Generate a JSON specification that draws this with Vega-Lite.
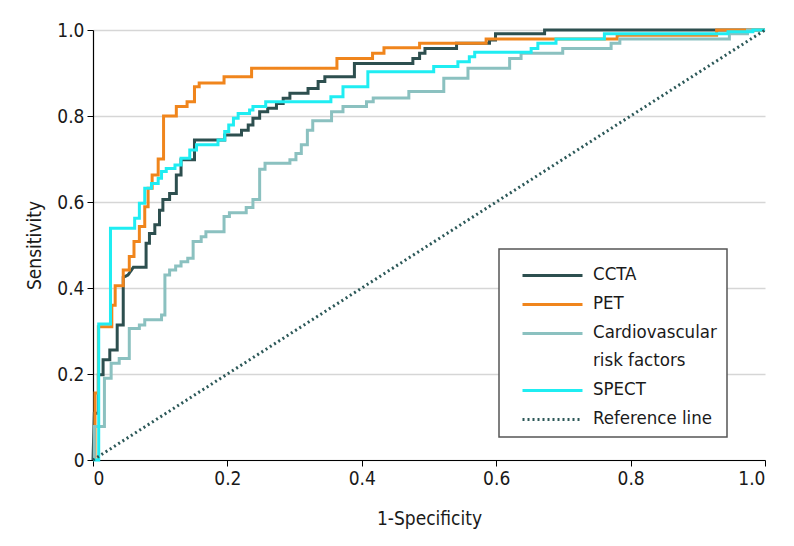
{
  "$schema": "https://vega.github.io/schema/vega-lite/v6.json",
  "width": 672,
  "height": 430,
  "autosize": {"type": "none"},
  "padding": {"left": 93, "top": 30, "right": 29, "bottom": 86},
  "config": {
    "font": "DejaVu Sans Condensed",
    "view": {"stroke": null},
    "axis": {
      "labelFont": "DejaVu Sans Condensed",
      "titleFont": "DejaVu Sans Condensed",
      "labelFontSize": 19,
      "titleFontSize": 19,
      "titleFontWeight": "normal",
      "labelColor": "#1a1a1a",
      "titleColor": "#1a1a1a",
      "domainColor": "#000000",
      "domainWidth": 1.2,
      "tickColor": "#000000",
      "tickWidth": 1,
      "tickSize": 6,
      "labelPadding": 3,
      "gridColor": "#d6d6d6",
      "gridWidth": 1.5
    },
    "legend": {
      "labelFont": "DejaVu Sans Condensed",
      "labelFontSize": 18.5,
      "labelColor": "#1a1a1a"
    }
  },
  "data": {
    "values": [
      {"s":"CCTA","i":0,"x":0,"y":0},{"s":"CCTA","i":1,"x":0.002,"y":0.109},{"s":"CCTA","i":2,"x":0.008,"y":0.109},{"s":"CCTA","i":3,"x":0.008,"y":0.198},{"s":"CCTA","i":4,"x":0.015,"y":0.198},{"s":"CCTA","i":5,"x":0.015,"y":0.233},{"s":"CCTA","i":6,"x":0.025,"y":0.233},{"s":"CCTA","i":7,"x":0.025,"y":0.256},{"s":"CCTA","i":8,"x":0.036,"y":0.256},{"s":"CCTA","i":9,"x":0.036,"y":0.314},{"s":"CCTA","i":10,"x":0.045,"y":0.314},{"s":"CCTA","i":11,"x":0.045,"y":0.425},{"s":"CCTA","i":12,"x":0.052,"y":0.43},{"s":"CCTA","i":13,"x":0.06,"y":0.448},{"s":"CCTA","i":14,"x":0.079,"y":0.448},{"s":"CCTA","i":15,"x":0.079,"y":0.504},{"s":"CCTA","i":16,"x":0.084,"y":0.504},{"s":"CCTA","i":17,"x":0.084,"y":0.527},{"s":"CCTA","i":18,"x":0.092,"y":0.527},{"s":"CCTA","i":19,"x":0.092,"y":0.547},{"s":"CCTA","i":20,"x":0.099,"y":0.547},{"s":"CCTA","i":21,"x":0.099,"y":0.581},{"s":"CCTA","i":22,"x":0.104,"y":0.581},{"s":"CCTA","i":23,"x":0.104,"y":0.606},{"s":"CCTA","i":24,"x":0.114,"y":0.606},{"s":"CCTA","i":25,"x":0.114,"y":0.62},{"s":"CCTA","i":26,"x":0.124,"y":0.62},{"s":"CCTA","i":27,"x":0.124,"y":0.663},{"s":"CCTA","i":28,"x":0.131,"y":0.663},{"s":"CCTA","i":29,"x":0.131,"y":0.698},{"s":"CCTA","i":30,"x":0.151,"y":0.698},{"s":"CCTA","i":31,"x":0.151,"y":0.744},{"s":"CCTA","i":32,"x":0.196,"y":0.744},{"s":"CCTA","i":33,"x":0.196,"y":0.756},{"s":"CCTA","i":34,"x":0.221,"y":0.756},{"s":"CCTA","i":35,"x":0.221,"y":0.767},{"s":"CCTA","i":36,"x":0.231,"y":0.767},{"s":"CCTA","i":37,"x":0.231,"y":0.779},{"s":"CCTA","i":38,"x":0.238,"y":0.779},{"s":"CCTA","i":39,"x":0.238,"y":0.795},{"s":"CCTA","i":40,"x":0.248,"y":0.795},{"s":"CCTA","i":41,"x":0.248,"y":0.81},{"s":"CCTA","i":42,"x":0.26,"y":0.81},{"s":"CCTA","i":43,"x":0.26,"y":0.818},{"s":"CCTA","i":44,"x":0.273,"y":0.818},{"s":"CCTA","i":45,"x":0.273,"y":0.829},{"s":"CCTA","i":46,"x":0.283,"y":0.829},{"s":"CCTA","i":47,"x":0.283,"y":0.841},{"s":"CCTA","i":48,"x":0.293,"y":0.841},{"s":"CCTA","i":49,"x":0.293,"y":0.853},{"s":"CCTA","i":50,"x":0.32,"y":0.853},{"s":"CCTA","i":51,"x":0.32,"y":0.864},{"s":"CCTA","i":52,"x":0.335,"y":0.864},{"s":"CCTA","i":53,"x":0.335,"y":0.88},{"s":"CCTA","i":54,"x":0.345,"y":0.88},{"s":"CCTA","i":55,"x":0.345,"y":0.891},{"s":"CCTA","i":56,"x":0.389,"y":0.891},{"s":"CCTA","i":57,"x":0.389,"y":0.922},{"s":"CCTA","i":58,"x":0.476,"y":0.922},{"s":"CCTA","i":59,"x":0.476,"y":0.934},{"s":"CCTA","i":60,"x":0.486,"y":0.934},{"s":"CCTA","i":61,"x":0.486,"y":0.946},{"s":"CCTA","i":62,"x":0.494,"y":0.946},{"s":"CCTA","i":63,"x":0.494,"y":0.957},{"s":"CCTA","i":64,"x":0.541,"y":0.957},{"s":"CCTA","i":65,"x":0.541,"y":0.969},{"s":"CCTA","i":66,"x":0.59,"y":0.969},{"s":"CCTA","i":67,"x":0.59,"y":0.977},{"s":"CCTA","i":68,"x":0.599,"y":0.977},{"s":"CCTA","i":69,"x":0.599,"y":0.991},{"s":"CCTA","i":70,"x":0.672,"y":0.991},{"s":"CCTA","i":71,"x":0.672,"y":1},{"s":"CCTA","i":72,"x":1,"y":1},

      {"s":"PET","i":0,"x":0.003,"y":0},{"s":"PET","i":1,"x":0.003,"y":0.156},{"s":"PET","i":2,"x":0.008,"y":0.156},{"s":"PET","i":3,"x":0.008,"y":0.31},{"s":"PET","i":4,"x":0.028,"y":0.31},{"s":"PET","i":5,"x":0.028,"y":0.36},{"s":"PET","i":6,"x":0.033,"y":0.36},{"s":"PET","i":7,"x":0.033,"y":0.405},{"s":"PET","i":8,"x":0.045,"y":0.405},{"s":"PET","i":9,"x":0.045,"y":0.442},{"s":"PET","i":10,"x":0.054,"y":0.442},{"s":"PET","i":11,"x":0.054,"y":0.473},{"s":"PET","i":12,"x":0.061,"y":0.473},{"s":"PET","i":13,"x":0.061,"y":0.508},{"s":"PET","i":14,"x":0.069,"y":0.508},{"s":"PET","i":15,"x":0.069,"y":0.543},{"s":"PET","i":16,"x":0.077,"y":0.543},{"s":"PET","i":17,"x":0.077,"y":0.589},{"s":"PET","i":18,"x":0.082,"y":0.589},{"s":"PET","i":19,"x":0.082,"y":0.632},{"s":"PET","i":20,"x":0.088,"y":0.632},{"s":"PET","i":21,"x":0.088,"y":0.663},{"s":"PET","i":22,"x":0.097,"y":0.663},{"s":"PET","i":23,"x":0.097,"y":0.7},{"s":"PET","i":24,"x":0.105,"y":0.7},{"s":"PET","i":25,"x":0.105,"y":0.8},{"s":"PET","i":26,"x":0.124,"y":0.8},{"s":"PET","i":27,"x":0.124,"y":0.822},{"s":"PET","i":28,"x":0.14,"y":0.822},{"s":"PET","i":29,"x":0.14,"y":0.833},{"s":"PET","i":30,"x":0.151,"y":0.833},{"s":"PET","i":31,"x":0.151,"y":0.868},{"s":"PET","i":32,"x":0.158,"y":0.868},{"s":"PET","i":33,"x":0.158,"y":0.877},{"s":"PET","i":34,"x":0.195,"y":0.877},{"s":"PET","i":35,"x":0.195,"y":0.891},{"s":"PET","i":36,"x":0.236,"y":0.891},{"s":"PET","i":37,"x":0.236,"y":0.911},{"s":"PET","i":38,"x":0.363,"y":0.911},{"s":"PET","i":39,"x":0.363,"y":0.934},{"s":"PET","i":40,"x":0.416,"y":0.934},{"s":"PET","i":41,"x":0.416,"y":0.946},{"s":"PET","i":42,"x":0.433,"y":0.946},{"s":"PET","i":43,"x":0.433,"y":0.959},{"s":"PET","i":44,"x":0.486,"y":0.959},{"s":"PET","i":45,"x":0.486,"y":0.969},{"s":"PET","i":46,"x":0.585,"y":0.969},{"s":"PET","i":47,"x":0.585,"y":0.979},{"s":"PET","i":48,"x":0.78,"y":0.979},{"s":"PET","i":49,"x":0.78,"y":0.988},{"s":"PET","i":50,"x":0.928,"y":0.988},{"s":"PET","i":51,"x":0.928,"y":1},{"s":"PET","i":52,"x":1,"y":1},

      {"s":"Cardiovascular risk factors","i":0,"x":0.002,"y":0},{"s":"Cardiovascular risk factors","i":1,"x":0.002,"y":0.078},{"s":"Cardiovascular risk factors","i":2,"x":0.017,"y":0.078},{"s":"Cardiovascular risk factors","i":3,"x":0.017,"y":0.19},{"s":"Cardiovascular risk factors","i":4,"x":0.027,"y":0.19},{"s":"Cardiovascular risk factors","i":5,"x":0.027,"y":0.225},{"s":"Cardiovascular risk factors","i":6,"x":0.039,"y":0.225},{"s":"Cardiovascular risk factors","i":7,"x":0.039,"y":0.236},{"s":"Cardiovascular risk factors","i":8,"x":0.054,"y":0.236},{"s":"Cardiovascular risk factors","i":9,"x":0.054,"y":0.306},{"s":"Cardiovascular risk factors","i":10,"x":0.069,"y":0.306},{"s":"Cardiovascular risk factors","i":11,"x":0.069,"y":0.314},{"s":"Cardiovascular risk factors","i":12,"x":0.077,"y":0.314},{"s":"Cardiovascular risk factors","i":13,"x":0.077,"y":0.326},{"s":"Cardiovascular risk factors","i":14,"x":0.102,"y":0.326},{"s":"Cardiovascular risk factors","i":15,"x":0.102,"y":0.337},{"s":"Cardiovascular risk factors","i":16,"x":0.107,"y":0.337},{"s":"Cardiovascular risk factors","i":17,"x":0.107,"y":0.43},{"s":"Cardiovascular risk factors","i":18,"x":0.114,"y":0.43},{"s":"Cardiovascular risk factors","i":19,"x":0.114,"y":0.442},{"s":"Cardiovascular risk factors","i":20,"x":0.123,"y":0.442},{"s":"Cardiovascular risk factors","i":21,"x":0.123,"y":0.451},{"s":"Cardiovascular risk factors","i":22,"x":0.131,"y":0.451},{"s":"Cardiovascular risk factors","i":23,"x":0.131,"y":0.461},{"s":"Cardiovascular risk factors","i":24,"x":0.141,"y":0.461},{"s":"Cardiovascular risk factors","i":25,"x":0.141,"y":0.469},{"s":"Cardiovascular risk factors","i":26,"x":0.149,"y":0.469},{"s":"Cardiovascular risk factors","i":27,"x":0.149,"y":0.508},{"s":"Cardiovascular risk factors","i":28,"x":0.161,"y":0.508},{"s":"Cardiovascular risk factors","i":29,"x":0.161,"y":0.519},{"s":"Cardiovascular risk factors","i":30,"x":0.168,"y":0.519},{"s":"Cardiovascular risk factors","i":31,"x":0.168,"y":0.531},{"s":"Cardiovascular risk factors","i":32,"x":0.195,"y":0.531},{"s":"Cardiovascular risk factors","i":33,"x":0.195,"y":0.566},{"s":"Cardiovascular risk factors","i":34,"x":0.203,"y":0.566},{"s":"Cardiovascular risk factors","i":35,"x":0.203,"y":0.575},{"s":"Cardiovascular risk factors","i":36,"x":0.228,"y":0.575},{"s":"Cardiovascular risk factors","i":37,"x":0.228,"y":0.587},{"s":"Cardiovascular risk factors","i":38,"x":0.238,"y":0.587},{"s":"Cardiovascular risk factors","i":39,"x":0.238,"y":0.606},{"s":"Cardiovascular risk factors","i":40,"x":0.248,"y":0.606},{"s":"Cardiovascular risk factors","i":41,"x":0.248,"y":0.676},{"s":"Cardiovascular risk factors","i":42,"x":0.256,"y":0.676},{"s":"Cardiovascular risk factors","i":43,"x":0.256,"y":0.69},{"s":"Cardiovascular risk factors","i":44,"x":0.293,"y":0.69},{"s":"Cardiovascular risk factors","i":45,"x":0.293,"y":0.698},{"s":"Cardiovascular risk factors","i":46,"x":0.302,"y":0.698},{"s":"Cardiovascular risk factors","i":47,"x":0.302,"y":0.713},{"s":"Cardiovascular risk factors","i":48,"x":0.31,"y":0.713},{"s":"Cardiovascular risk factors","i":49,"x":0.31,"y":0.733},{"s":"Cardiovascular risk factors","i":50,"x":0.319,"y":0.733},{"s":"Cardiovascular risk factors","i":51,"x":0.319,"y":0.767},{"s":"Cardiovascular risk factors","i":52,"x":0.327,"y":0.767},{"s":"Cardiovascular risk factors","i":53,"x":0.327,"y":0.789},{"s":"Cardiovascular risk factors","i":54,"x":0.355,"y":0.789},{"s":"Cardiovascular risk factors","i":55,"x":0.355,"y":0.81},{"s":"Cardiovascular risk factors","i":56,"x":0.372,"y":0.81},{"s":"Cardiovascular risk factors","i":57,"x":0.372,"y":0.822},{"s":"Cardiovascular risk factors","i":58,"x":0.407,"y":0.822},{"s":"Cardiovascular risk factors","i":59,"x":0.407,"y":0.833},{"s":"Cardiovascular risk factors","i":60,"x":0.417,"y":0.833},{"s":"Cardiovascular risk factors","i":61,"x":0.417,"y":0.842},{"s":"Cardiovascular risk factors","i":62,"x":0.47,"y":0.842},{"s":"Cardiovascular risk factors","i":63,"x":0.47,"y":0.857},{"s":"Cardiovascular risk factors","i":64,"x":0.522,"y":0.857},{"s":"Cardiovascular risk factors","i":65,"x":0.522,"y":0.888},{"s":"Cardiovascular risk factors","i":66,"x":0.558,"y":0.888},{"s":"Cardiovascular risk factors","i":67,"x":0.558,"y":0.911},{"s":"Cardiovascular risk factors","i":68,"x":0.62,"y":0.911},{"s":"Cardiovascular risk factors","i":69,"x":0.62,"y":0.934},{"s":"Cardiovascular risk factors","i":70,"x":0.637,"y":0.934},{"s":"Cardiovascular risk factors","i":71,"x":0.637,"y":0.946},{"s":"Cardiovascular risk factors","i":72,"x":0.699,"y":0.946},{"s":"Cardiovascular risk factors","i":73,"x":0.699,"y":0.957},{"s":"Cardiovascular risk factors","i":74,"x":0.771,"y":0.957},{"s":"Cardiovascular risk factors","i":75,"x":0.771,"y":0.969},{"s":"Cardiovascular risk factors","i":76,"x":0.784,"y":0.969},{"s":"Cardiovascular risk factors","i":77,"x":0.784,"y":0.979},{"s":"Cardiovascular risk factors","i":78,"x":0.947,"y":0.979},{"s":"Cardiovascular risk factors","i":79,"x":0.947,"y":0.991},{"s":"Cardiovascular risk factors","i":80,"x":0.974,"y":0.991},{"s":"Cardiovascular risk factors","i":81,"x":0.974,"y":1},{"s":"Cardiovascular risk factors","i":82,"x":1,"y":1},

      {"s":"SPECT","i":0,"x":0,"y":0},{"s":"SPECT","i":1,"x":0.0085,"y":0},{"s":"SPECT","i":2,"x":0.0085,"y":0.316},{"s":"SPECT","i":3,"x":0.026,"y":0.316},{"s":"SPECT","i":4,"x":0.026,"y":0.539},{"s":"SPECT","i":5,"x":0.062,"y":0.539},{"s":"SPECT","i":6,"x":0.062,"y":0.562},{"s":"SPECT","i":7,"x":0.069,"y":0.562},{"s":"SPECT","i":8,"x":0.069,"y":0.597},{"s":"SPECT","i":9,"x":0.077,"y":0.597},{"s":"SPECT","i":10,"x":0.077,"y":0.632},{"s":"SPECT","i":11,"x":0.087,"y":0.632},{"s":"SPECT","i":12,"x":0.087,"y":0.643},{"s":"SPECT","i":13,"x":0.097,"y":0.643},{"s":"SPECT","i":14,"x":0.097,"y":0.655},{"s":"SPECT","i":15,"x":0.102,"y":0.655},{"s":"SPECT","i":16,"x":0.102,"y":0.671},{"s":"SPECT","i":17,"x":0.109,"y":0.671},{"s":"SPECT","i":18,"x":0.109,"y":0.678},{"s":"SPECT","i":19,"x":0.122,"y":0.678},{"s":"SPECT","i":20,"x":0.122,"y":0.686},{"s":"SPECT","i":21,"x":0.131,"y":0.686},{"s":"SPECT","i":22,"x":0.131,"y":0.702},{"s":"SPECT","i":23,"x":0.144,"y":0.702},{"s":"SPECT","i":24,"x":0.144,"y":0.721},{"s":"SPECT","i":25,"x":0.154,"y":0.721},{"s":"SPECT","i":26,"x":0.154,"y":0.733},{"s":"SPECT","i":27,"x":0.186,"y":0.733},{"s":"SPECT","i":28,"x":0.186,"y":0.744},{"s":"SPECT","i":29,"x":0.196,"y":0.744},{"s":"SPECT","i":30,"x":0.196,"y":0.764},{"s":"SPECT","i":31,"x":0.202,"y":0.764},{"s":"SPECT","i":32,"x":0.202,"y":0.779},{"s":"SPECT","i":33,"x":0.209,"y":0.779},{"s":"SPECT","i":34,"x":0.209,"y":0.795},{"s":"SPECT","i":35,"x":0.216,"y":0.795},{"s":"SPECT","i":36,"x":0.216,"y":0.806},{"s":"SPECT","i":37,"x":0.233,"y":0.806},{"s":"SPECT","i":38,"x":0.233,"y":0.814},{"s":"SPECT","i":39,"x":0.238,"y":0.814},{"s":"SPECT","i":40,"x":0.238,"y":0.822},{"s":"SPECT","i":41,"x":0.257,"y":0.822},{"s":"SPECT","i":42,"x":0.257,"y":0.833},{"s":"SPECT","i":43,"x":0.354,"y":0.833},{"s":"SPECT","i":44,"x":0.354,"y":0.845},{"s":"SPECT","i":45,"x":0.372,"y":0.845},{"s":"SPECT","i":46,"x":0.372,"y":0.868},{"s":"SPECT","i":47,"x":0.409,"y":0.868},{"s":"SPECT","i":48,"x":0.409,"y":0.903},{"s":"SPECT","i":49,"x":0.507,"y":0.903},{"s":"SPECT","i":50,"x":0.507,"y":0.915},{"s":"SPECT","i":51,"x":0.543,"y":0.915},{"s":"SPECT","i":52,"x":0.543,"y":0.926},{"s":"SPECT","i":53,"x":0.56,"y":0.926},{"s":"SPECT","i":54,"x":0.56,"y":0.938},{"s":"SPECT","i":55,"x":0.568,"y":0.938},{"s":"SPECT","i":56,"x":0.568,"y":0.948},{"s":"SPECT","i":57,"x":0.652,"y":0.948},{"s":"SPECT","i":58,"x":0.652,"y":0.957},{"s":"SPECT","i":59,"x":0.662,"y":0.957},{"s":"SPECT","i":60,"x":0.662,"y":0.969},{"s":"SPECT","i":61,"x":0.689,"y":0.969},{"s":"SPECT","i":62,"x":0.689,"y":0.979},{"s":"SPECT","i":63,"x":0.761,"y":0.979},{"s":"SPECT","i":64,"x":0.761,"y":0.991},{"s":"SPECT","i":65,"x":0.945,"y":0.991},{"s":"SPECT","i":66,"x":0.945,"y":0.996},{"s":"SPECT","i":67,"x":0.982,"y":0.996},{"s":"SPECT","i":68,"x":0.982,"y":1},{"s":"SPECT","i":69,"x":1,"y":1},

      {"s":"Reference line","i":0,"x":0,"y":0},{"s":"Reference line","i":1,"x":1,"y":1}
    ]
  },
  "mark": {"type": "line", "strokeJoin": "miter", "strokeCap": "butt"},
  "encoding": {
    "x": {
      "field": "x", "type": "quantitative",
      "scale": {"domain": [0, 1], "nice": false, "zero": true},
      "axis": {
        "values": [0, 0.2, 0.4, 0.6, 0.8, 1],
        "labelExpr": "datum.value == 0 ? '0' : format(datum.value, '.1f')",
        "grid": false,
        "title": "1-Specificity",
        "titlePadding": 21
      }
    },
    "y": {
      "field": "y", "type": "quantitative",
      "scale": {"domain": [0, 1], "nice": false},
      "axis": {
        "values": [0, 0.2, 0.4, 0.6, 0.8, 1],
        "labelExpr": "datum.value == 0 ? '0' : format(datum.value, '.1f')",
        "grid": true,
        "title": "Sensitivity",
        "titlePadding": 12
      }
    },
    "color": {
      "field": "s", "type": "nominal",
      "scale": {
        "domain": ["CCTA", "PET", "Cardiovascular risk factors", "SPECT", "Reference line"],
        "range": ["#2D4F4F", "#F0851C", "#8BC1C0", "#1FEDF2", "#2C5858"]
      },
      "legend": {
        "title": null,
        "orient": "none",
        "legendX": 406,
        "legendY": 219,
        "strokeColor": "#555555",
        "fillColor": "#ffffff",
        "padding": 10,
        "symbolType": "M-0.2,0H3.8",
        "symbolSize": 900,
        "symbolStrokeWidth": 3,
        "labelOffset": 51,
        "rowPadding": 5,
        "labelBaseline": "top",
        "labelExpr": "datum.label == 'Cardiovascular risk factors' ? ['Cardiovascular', 'risk factors'] : datum.label",
        "encode": {
          "labels": {"update": {"dy": {"value": -11}, "lineHeight": {"value": 28}}},
          "legend": {"update": {"strokeWidth": {"value": 1.5}}}
        }
      }
    },
    "strokeDash": {
      "field": "s", "type": "nominal",
      "scale": {
        "domain": ["CCTA", "PET", "Cardiovascular risk factors", "SPECT", "Reference line"],
        "range": [[1, 0], [1, 0], [1, 0], [1, 0], [2, 3]]
      }
    },
    "strokeWidth": {
      "field": "s", "type": "ordinal",
      "scale": {
        "domain": ["CCTA", "PET", "Cardiovascular risk factors", "SPECT", "Reference line"],
        "range": [3, 3, 3, 3, 2.5]
      },
      "legend": null
    },
    "order": {"field": "i", "type": "quantitative"}
  }
}
